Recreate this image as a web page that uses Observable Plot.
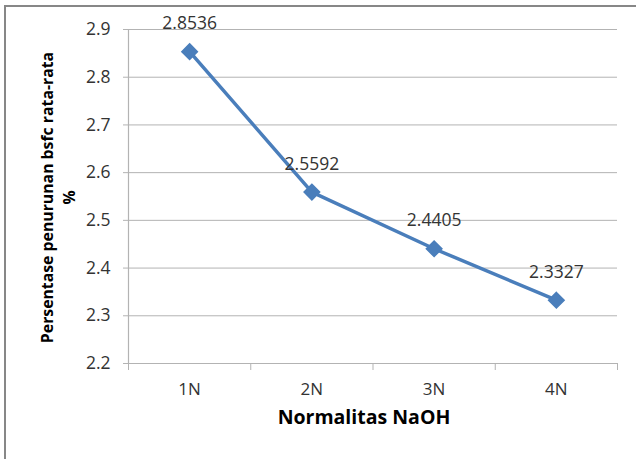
<!DOCTYPE html>
<html>
<head>
<meta charset="utf-8">
<script src="https://cdn.jsdelivr.net/npm/d3@7"></script>
<script src="https://cdn.jsdelivr.net/npm/@observablehq/plot@0.6"></script>
<style>
  html, body { margin: 0; padding: 0; background: #fff; }
  #wrap { position: relative; width: 636px; height: 459px; overflow: hidden; }
  #frame { position: absolute; left: 4px; top: 5px; width: 640px; height: 460px;
           border-top: 2px solid #878787; border-left: 2px solid #878787; }
  #chart { position: absolute; left: 0; top: 0; }
</style>
</head>
<body>
<div id="wrap"><div id="frame"></div><div id="chart"></div></div>
<script>
const categories = ["1N", "2N", "3N", "4N"];
const values = [2.8536, 2.5592, 2.4405, 2.3327];
const yTicks = [2.2, 2.3, 2.4, 2.5, 2.6, 2.7, 2.8, 2.9];
const xTitle = "Normalitas NaOH";
const yTitle = "Persentase penurunan bsfc rata-rata\n%";

const data = categories.map((c, i) => ({i: i + 1, cat: c, v: values[i]}));
const edges = d3.range(0.5, categories.length + 1, 1);

const font = "'Open Sans', sans-serif";
const chart = Plot.plot({
  width: 636,
  height: 459,
  marginLeft: 128,
  marginRight: 19,
  marginTop: 29,
  marginBottom: 96,
  style: {fontFamily: font, fontSize: "16px", color: "#333", background: "transparent"},
  x: {type: "linear", domain: [0.5, categories.length + 0.5]},
  y: {domain: [2.2, 2.9]},
  marks: [
    Plot.gridY(yTicks, {stroke: "#b3b3b3", strokeOpacity: 1}),
    Plot.ruleX([0.5], {stroke: "#b3b3b3", strokeWidth: 1.2}),
    Plot.ruleY([2.2], {stroke: "#b3b3b3", strokeWidth: 1.2}),
    Plot.axisY({ticks: yTicks, tickSize: 5, tickPadding: 13, tickFormat: d3.format(".1f"), stroke: "#b3b3b3", fill: "#333", label: null, fontSize: 17.5}),
    Plot.axisX({ticks: edges, tickSize: 7, tickFormat: () => "", stroke: "#b3b3b3", label: null}),
    Plot.axisX({ticks: categories.map((c, i) => i + 1), tickSize: 0, tickPadding: 19, tickFormat: d => categories[d - 1], fill: "#333", label: null, fontSize: 17}),
    Plot.line(data, {x: "i", y: "v", stroke: "#4a7ebb", strokeWidth: 3.5}),
    Plot.dot(data, {x: "i", y: "v", symbol: "diamond2", r: 7, fill: "#4a7ebb", stroke: "#4a7ebb"}),
    Plot.text(data, {x: "i", y: "v", text: d => d.v.toFixed(4), dy: -28, fontSize: 17.5, fill: "#333"}),
    Plot.text([xTitle], {frameAnchor: "bottom", dx: -9, dy: 60, textAnchor: "middle", fontSize: 19.5, fontWeight: "bold", fill: "#000"}),
    Plot.text([yTitle], {frameAnchor: "left", dx: -72, dy: 1, textAnchor: "middle", rotate: -90, fontSize: 15.8, fontWeight: "bold", fill: "#000", lineHeight: 1.4})
  ]
});
document.getElementById("chart").appendChild(chart);
</script>
</body>
</html>
